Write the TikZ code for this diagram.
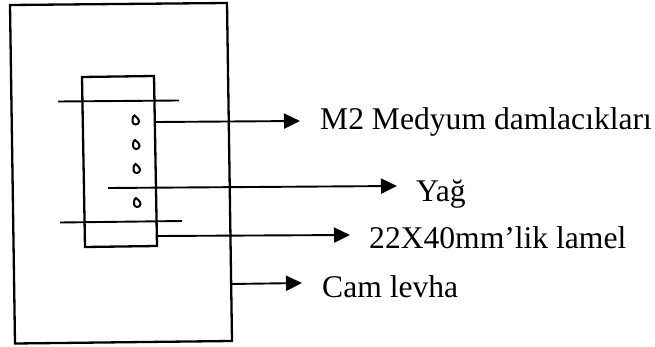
\documentclass[tikz,border=0pt]{standalone}
\usepackage{fontspec}
\setmainfont{Liberation Serif}
\usetikzlibrary{arrows.meta}
\tikzset{
  box/.style={draw=black,line width=2.3pt,fill=none},
  rule/.style={draw=black,line width=1.9pt},
  lead/.style={draw=black,line width=1.9pt,-{Triangle[length=16pt,width=15pt]}},
  lbl/.style={anchor=base west,inner sep=0pt,font=\fontsize{31.6}{36}\selectfont,text=black},
  drop/.style={draw=black,line width=2pt,fill=white}
}
\begin{document}
\begin{tikzpicture}[x=1pt,y=-1pt]
\useasboundingbox (0,0) rectangle (655,347);
\draw[box] (10,5) -- (227,3) -- (232,341) -- (15,343.5) -- cycle;
\draw[box] (82,77) -- (154,76) -- (157,246) -- (85,247) -- cycle;
% cross lines
\coordinate (a1) at (58,101.5); \coordinate (a2) at (179,100.5);
\coordinate (c1) at (60,222.5); \coordinate (c2) at (182,221);
\draw[rule] (a1) -- (a2);
\draw[rule] (c1) -- (c2);
% drops
\foreach \n/\x/\y in {d1/135.5/120.5,d2/136/145,d3/136.5/169,d4/137/203}{
  \draw[drop] (\x-3,\y+1) .. controls (\x-3,\y-3) and (\x-2,\y-5) .. (\x-1,\y-5)
     .. controls (\x+1,\y-4) and (\x+3.5,\y-1) .. (\x+3.5,\y+1)
     .. controls (\x+3.5,\y+5) and (\x-3,\y+5) .. (\x-3,\y+1) -- cycle;
}
% labels
\node[lbl] (m) at (320,130) {M2 Medyum damlacıkları};
\node[lbl] (y) at (416,202) {Yağ};
\node[lbl] (l) at (369,248) {22X40mm’lik lamel};
\node[lbl] (k) at (322,297) {Cam levha};
% leads
\coordinate (s1) at (156,122); \coordinate (t1) at (300,121);
\coordinate (s2) at (108,188); \coordinate (t2) at (397,186);
\coordinate (s3) at (158,236); \coordinate (t3) at (350,235);
\coordinate (s4) at (231,284); \coordinate (t4) at (302,283);
\draw[lead] (s1) -- (t1);
\draw[lead] (s2) -- (t2);
\draw[lead] (s3) -- (t3);
\draw[lead] (s4) -- (t4);
\end{tikzpicture}
\end{document}
